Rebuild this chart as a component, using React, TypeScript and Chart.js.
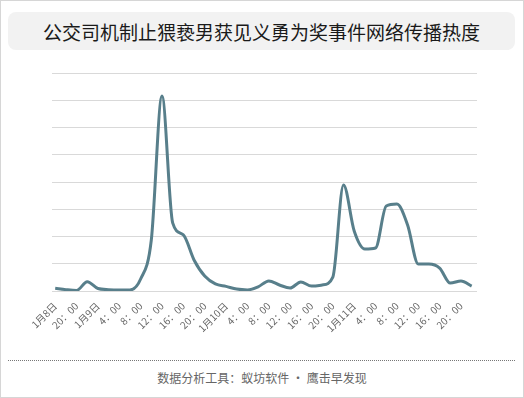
import React, { useEffect, useRef } from "react";
import { Chart, registerables } from "chart.js";

Chart.register(...registerables);

const title = "公交司机制止猥亵男获见义勇为奖事件网络传播热度";
const footer = "数据分析工具：蚁坊软件 · 鹰击早发现";

// every 2 hours from 1月8日 16:00 to 1月11日 22:00
const heatValues = [
  10, 5, 2, 34, 9, 5, 4, 4, 44, 187,
  716, 250, 206, 114, 55, 26, 17, 7, 4, 15,
  37, 22, 11, 33, 18, 22, 51, 389, 220, 154,
  158, 312, 319, 242, 99, 99, 84, 29, 37, 18,
];

// shown every 4 hours
const tickLabels = [
  "1月8日", "20：00", "1月9日", "4：00", "8：00", "12：00", "16：00", "20：00",
  "1月10日", "4：00", "8：00", "12：00", "16：00", "20：00",
  "1月11日", "4：00", "8：00", "12：00", "16：00", "20：00",
];

export default function App() {
  const ref = useRef<HTMLCanvasElement | null>(null);

  useEffect(() => {
    document.body.style.margin = "0";
    const canvas = ref.current;
    if (!canvas) return;
    const chart = new Chart(canvas, {
      type: "line",
      data: {
        datasets: [
          {
            data: heatValues.map((v, i) => ({ x: i, y: v })),
            borderColor: "#587f8b",
            borderWidth: 3,
            pointRadius: 0,
            fill: false,
            cubicInterpolationMode: "monotone",
          },
        ],
      },
      options: {
        animation: false,
        responsive: false,
        maintainAspectRatio: false,
        layout: { padding: { left: 52, right: 47, top: 13, bottom: 0 } },
        plugins: { legend: { display: false }, tooltip: { enabled: false } },
        scales: {
          x: {
            type: "linear",
            min: -0.3,
            max: 39.5,
            grid: { display: false, drawTicks: false },
            border: { display: false },
            afterBuildTicks: (axis: any) => {
              axis.ticks = tickLabels.map((_, k) => ({ value: k * 2 }));
            },
            afterFit: (axis: any) => {
              axis.height = 59;
            },
            ticks: {
              autoSkip: false,
              minRotation: 45,
              maxRotation: 45,
              padding: 9,
              color: "#666",
              font: { size: 10, family: "'Noto Sans CJK SC', 'Noto Sans', sans-serif" },
              callback: (value: any) => tickLabels[Math.round(Number(value) / 2)] ?? "",
            },
          },
          y: {
            min: 0,
            max: 800,
            grid: { color: "#d9d9d9", lineWidth: 1, drawTicks: false },
            border: { display: false },
            ticks: { display: false, stepSize: 100 },
          },
        },
      },
    });
    return () => chart.destroy();
  }, []);

  return (
    <div
      style={{
        position: "relative",
        width: 524,
        height: 398,
        boxSizing: "border-box",
        border: "1px solid #d6d6d6",
        background: "#fff",
        fontFamily: "'Noto Sans CJK SC', 'Noto Sans', sans-serif",
        overflow: "hidden",
      }}
    >
      <div
        style={{
          position: "absolute",
          left: 7,
          top: 11,
          width: 507,
          height: 38,
          background: "#f2f2f2",
          borderRadius: 8,
          display: "flex",
          alignItems: "center",
          justifyContent: "center",
          fontSize: 19,
          color: "#1a1a1a",
        }}
      >
        {title}
      </div>
      <canvas
        ref={ref}
        width={524}
        height={290}
        style={{ position: "absolute", left: -1, top: 59, width: 524, height: 290 }}
      />
      <div
        style={{
          position: "absolute",
          left: 7,
          top: 359,
          width: 507,
          borderTop: "1px dotted #777",
        }}
      />
      <div
        style={{
          position: "absolute",
          left: 0,
          right: 0,
          top: 368,
          textAlign: "center",
          fontSize: 12,
          color: "#666",
          lineHeight: "18px",
        }}
      >
        {footer}
      </div>
    </div>
  );
}
